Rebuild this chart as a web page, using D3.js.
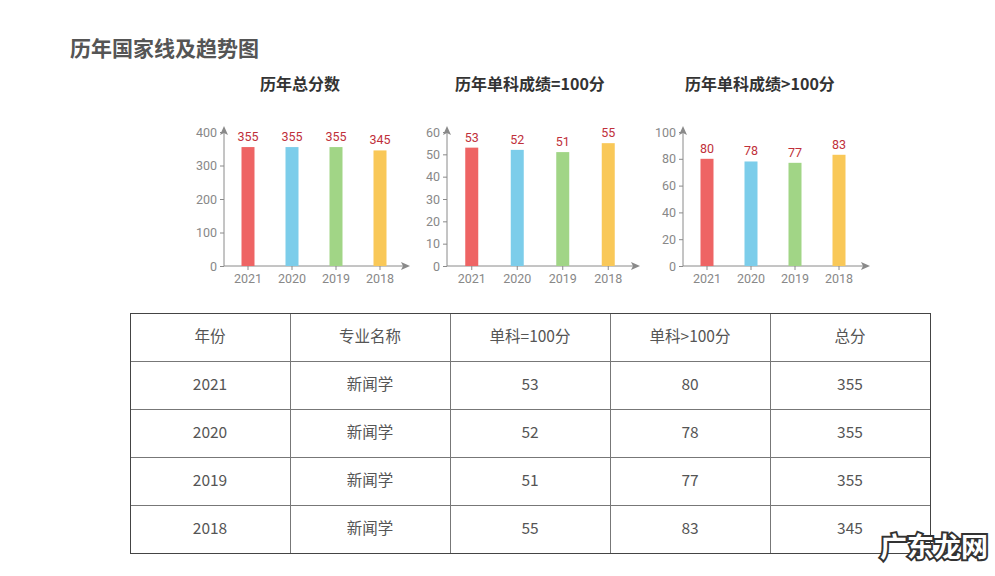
<!DOCTYPE html>
<html>
<head>
<meta charset="utf-8">
<script src="https://cdn.jsdelivr.net/npm/d3@7"></script>
<style>
  body { margin: 0; background: #fff; font-family: "Noto Sans CJK SC", "Microsoft YaHei", sans-serif; }
</style>
</head>
<body>
<div id="chart"></div>
<script>
const years = ["2021", "2020", "2019", "2018"];
const totalScores = [355, 355, 355, 345];
const single100 = [53, 52, 51, 55];
const singleOver100 = [80, 78, 77, 83];
const majors = ["新闻学", "新闻学", "新闻学", "新闻学"];
const tableHeaders = ["年份", "专业名称", "单科=100分", "单科>100分", "总分"];
const barColors = ["#ee6464", "#7ccdea", "#a1d586", "#f9c858"];

const width = 995;
const height = 576;
const AXIS_COLOR = "#8a8a8a";

const svg = d3.select("#chart")
  .append("svg")
  .attr("width", width)
  .attr("height", height);

svg.append("text")
  .attr("x", 70)
  .attr("y", 56)
  .attr("font-size", "21px")
  .attr("font-weight", "bold")
  .attr("fill", "#555")
  .text("历年国家线及趋势图");

// three small bar charts
const panels = [
  { title: "历年总分数", values: totalScores, max: 400, step: 100, x0: 226, x1: 402, arrow: 410, titleX: 300 },
  { title: "历年单科成绩=100分", values: single100, max: 60, step: 10, x0: 449, x1: 631, arrow: 640, titleX: 530 },
  { title: "历年单科成绩>100分", values: singleOver100, max: 100, step: 20, x0: 685, x1: 861, arrow: 870, titleX: 760 }
];

const yTop = 132;
const yBottom = 266;

panels.forEach(function (p) {
  const g = svg.append("g");

  g.append("text")
    .attr("x", p.titleX)
    .attr("y", 90)
    .attr("text-anchor", "middle")
    .attr("font-size", "16px")
    .attr("font-weight", "bold")
    .attr("fill", "#333")
    .text(p.title);

  const x = d3.scaleBand().domain(years).range([p.x0, p.x1]);
  const y = d3.scaleLinear().domain([0, p.max]).range([yBottom, yTop]);

  const yAxis = g.append("g")
    .attr("transform", "translate(" + (p.x0 - 2) + ",0)")
    .call(d3.axisLeft(y).tickValues(d3.range(0, p.max + 1, p.step)).tickSize(4).tickPadding(3));
  yAxis.select(".domain").remove();
  yAxis.selectAll("line").attr("stroke", AXIS_COLOR);
  yAxis.selectAll("text")
    .attr("fill", "#888")
    .attr("font-size", "12.5px")
    .attr("font-family", "Roboto, sans-serif");

  const xAxis = g.append("g")
    .attr("transform", "translate(0," + yBottom + ")")
    .call(d3.axisBottom(x).tickSize(4).tickPadding(4));
  xAxis.select(".domain").remove();
  xAxis.selectAll("line").attr("stroke", AXIS_COLOR);
  xAxis.selectAll("text")
    .attr("fill", "#888")
    .attr("font-size", "12.5px")
    .attr("font-family", "Roboto, sans-serif");

  // axis lines with arrows
  g.append("line")
    .attr("x1", p.x0 - 2).attr("y1", yBottom)
    .attr("x2", p.arrow - 4).attr("y2", yBottom)
    .attr("stroke", AXIS_COLOR);
  g.append("path")
    .attr("d", "M" + p.arrow + "," + yBottom + "l-9,-4l2,4l-2,4z")
    .attr("fill", AXIS_COLOR);
  g.append("line")
    .attr("x1", p.x0 - 2).attr("y1", yBottom)
    .attr("x2", p.x0 - 2).attr("y2", yTop - 2)
    .attr("stroke", AXIS_COLOR);
  g.append("path")
    .attr("d", "M" + (p.x0 - 2) + "," + (yTop - 6) + "l-4,9l4,-2l4,2z")
    .attr("fill", AXIS_COLOR);

  g.selectAll("rect.bar")
    .data(p.values)
    .enter()
    .append("rect")
    .attr("class", "bar")
    .attr("x", function (d, i) { return x(years[i]) + x.bandwidth() / 2 - 6.5; })
    .attr("y", function (d) { return y(d); })
    .attr("width", 13)
    .attr("height", function (d) { return yBottom - y(d); })
    .attr("fill", function (d, i) { return barColors[i]; });

  g.selectAll("text.lbl")
    .data(p.values)
    .enter()
    .append("text")
    .attr("class", "lbl")
    .attr("x", function (d, i) { return x(years[i]) + x.bandwidth() / 2; })
    .attr("y", function (d) { return y(d) - 6; })
    .attr("text-anchor", "middle")
    .attr("font-size", "12.5px")
    .attr("font-family", "Roboto, sans-serif")
    .attr("fill", "#c0303a")
    .text(function (d) { return d; });
});

// table
const tableLeft = 130;
const tableTop = 313;
const colW = 160;
const rowH = 48;
const rows = [tableHeaders].concat(years.map(function (yr, i) {
  return [yr, majors[i], single100[i], singleOver100[i], totalScores[i]];
}));

const tbl = svg.append("g");
rows.forEach(function (row, r) {
  row.forEach(function (cell, c) {
    tbl.append("text")
      .attr("x", tableLeft + colW * c + colW / 2)
      .attr("y", tableTop + rowH * r + rowH / 2 + 5)
      .attr("text-anchor", "middle")
      .attr("font-size", "15.5px")
      .attr("fill", "#555")
      .text(cell);
  });
});

for (let r = 1; r < rows.length; r++) {
  tbl.append("line")
    .attr("x1", tableLeft).attr("x2", tableLeft + colW * 5)
    .attr("y1", tableTop + rowH * r + 0.5).attr("y2", tableTop + rowH * r + 0.5)
    .attr("stroke", "#777");
}
for (let c = 1; c < 5; c++) {
  tbl.append("line")
    .attr("x1", tableLeft + colW * c + 0.5).attr("x2", tableLeft + colW * c + 0.5)
    .attr("y1", tableTop).attr("y2", tableTop + rowH * rows.length)
    .attr("stroke", "#777");
}
tbl.append("rect")
  .attr("x", tableLeft + 0.5)
  .attr("y", tableTop + 0.5)
  .attr("width", colW * 5)
  .attr("height", rowH * rows.length)
  .attr("fill", "none")
  .attr("stroke", "#444");

// watermark
svg.append("text")
  .attr("x", 988)
  .attr("y", 557)
  .attr("text-anchor", "end")
  .attr("font-size", "27px")
  .attr("font-weight", "bold")
  .attr("fill", "#fff")
  .attr("stroke", "#333")
  .attr("stroke-width", 4)
  .attr("paint-order", "stroke")
  .text("广东龙网");
</script>
</body>
</html>
